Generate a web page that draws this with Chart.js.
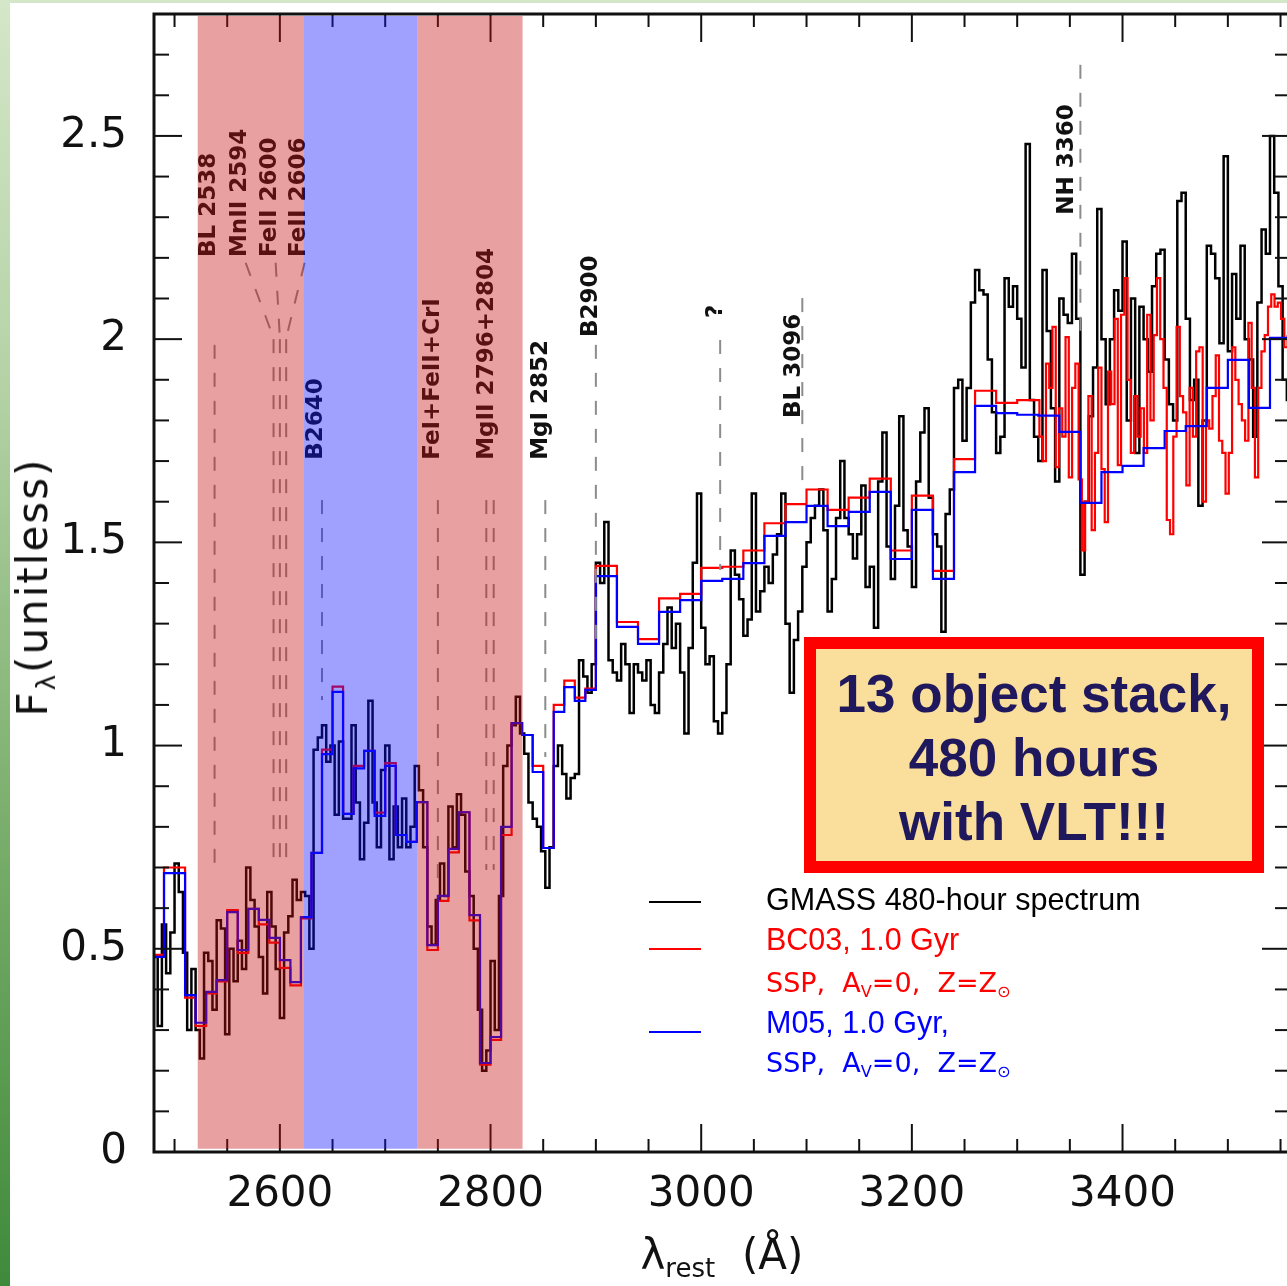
<!DOCTYPE html>
<html lang="en">
<head>
<meta charset="UTF-8">
<title>GMASS 480-hour stacked spectrum</title>
<style>
    html, body { margin: 0; padding: 0; }
    body {
        width: 1287px;
        height: 1286px;
        overflow: hidden;
        position: relative;
        background: linear-gradient(to bottom, #d4e7c8 0%, #b4d2a6 30%, #79ad6b 65%, #3f8a3a 100%);
    }
    #panel { position: absolute; left: 10px; top: 3px; width: 1277px; height: 1283px; background: #fff; }
    #spec { position: absolute; left: 0; top: 0; }

    .title {
        position: absolute;
        font-family: "DejaVu Sans", sans-serif;
        font-size: 42px;
        line-height: 42px;
        color: #111;
        white-space: pre;
    }
    .title sub { font-size: 0.62em; line-height: 0; vertical-align: -0.32em; }
    #ytitle { left: 33px; top: 587px; letter-spacing: 2px; transform: translate(-50%, -50%) rotate(-90deg); }
    #xtitle { left: 722px; top: 1234px; transform: translateX(-50%); }

    .key { position: absolute; left: 649px; width: 52px; height: 2px; }
    .leg { position: absolute; left: 766px; white-space: pre; }
    .leg.sans { font-family: "Liberation Sans", Arial, sans-serif; font-size: 30.5px; line-height: 30px; }
    .leg.hers { font-family: "DejaVu Sans", sans-serif; font-size: 27px; line-height: 27px; }
    .leg sub { font-size: 0.6em; line-height: 0; vertical-align: -0.3em; }

    #note {
        position: absolute;
        left: 804px; top: 637px;
        width: 460px; height: 236px;
        box-sizing: border-box;
        border: 12px solid #ff0000;
        background: #f9de9c;
        color: #20185c;
        font: bold 53px/64px "Liberation Sans", Arial, sans-serif;
        text-align: center;
        padding-top: 13px;
    }
</style>
</head>
<body>

<div id="panel"></div>
<canvas id="spec" width="1300" height="1286"></canvas>

<div id="ytitle" class="title">F<sub>λ</sub>(unitless)</div>
<div id="xtitle" class="title">λ<sub>rest</sub>  (Å)</div>

<div class="key" style="top:901px; background:#000;"></div>
<div class="key" style="top:948px; background:#ff0000;"></div>
<div class="key" style="top:1031px; background:#0000ff;"></div>
<div class="leg sans" style="top:884px; color:#000;">GMASS 480-hour spectrum</div>
<div class="leg sans" style="top:924px; color:#ff0000;">BC03, 1.0 Gyr</div>
<div class="leg hers" style="top:969px; color:#ff0000;">SSP,  A<sub>V</sub>=0,  Z=Z<sub>⊙</sub></div>
<div class="leg sans" style="top:1007px; color:#0000ff;">M05, 1.0 Gyr,</div>
<div class="leg hers" style="top:1049px; color:#0000ff;">SSP,  A<sub>V</sub>=0,  Z=Z<sub>⊙</sub></div>

<div id="note">13 object stack,<br>480 hours<br>with VLT!!!</div>

<script src="https://cdn.jsdelivr.net/npm/chart.js"></script>
<script>
    // stacked spectrum, sampled every 4 A from 2478 A
    const gmassStart = 2478;
    const gmassStep = 4;
    const gmassFlux = [
        0.45, 0.48, 0.31, 0.56, 0.44, 0.54, 0.71, 0.64, 0.49, 0.30,
        0.45, 0.30, 0.23, 0.49, 0.47, 0.35, 0.57, 0.55, 0.29, 0.50,
        0.42, 0.52, 0.45, 0.70, 0.62, 0.555, 0.48, 0.39, 0.64, 0.555,
        0.45, 0.33, 0.54, 0.58, 0.67, 0.62, 0.64, 0.63, 0.50, 0.99,
        1.02, 1.05, 0.96, 1.00, 0.83, 1.01, 0.82, 0.82, 1.05, 0.86,
        0.72, 0.81, 1.11, 0.86, 0.75, 0.94, 1.00, 0.72, 0.85, 0.75,
        0.87, 0.75, 0.80, 0.95, 0.89, 0.75, 0.555, 0.51, 0.62, 0.71,
        0.63, 0.85, 0.75, 0.88, 0.83, 0.69, 0.63, 0.50, 0.35, 0.20,
        0.25, 0.47, 0.30, 0.63, 0.95, 1.00, 1.05, 1.12, 1.03, 0.98,
        0.86, 0.82, 0.80, 0.74, 0.65, 0.75, 0.95, 1.00, 0.93, 0.87,
        0.92, 0.93, 1.21, 1.17, 1.13, 1.20, 1.45, 1.40, 1.55, 1.21,
        1.18, 1.16, 1.25, 1.20, 1.08, 1.20, 1.18, 1.16, 1.21, 1.10,
        1.08, 1.18, 1.25, 1.34, 1.24, 1.30, 1.18, 1.03, 1.24, 1.45,
        1.62, 1.29, 1.20, 1.22, 1.06, 1.03, 1.08, 1.20, 1.48, 1.42,
        1.36, 1.27, 1.31, 1.62, 1.33, 1.38, 1.44, 1.40, 1.47, 1.52,
        1.62, 1.30, 1.13, 1.26, 1.33, 1.44, 1.50, 1.56, 1.59, 1.63,
        1.53, 1.33, 1.41, 1.56, 1.70, 1.56, 1.52, 1.46, 1.52, 1.64,
        1.39, 1.44, 1.29, 1.65, 1.77, 1.49, 1.41, 1.59, 1.81, 1.53,
        1.49, 1.39, 1.65, 1.77, 1.83, 1.61, 1.52, 1.49, 1.28, 1.57,
        1.63, 1.88, 1.90, 1.75, 1.88, 2.09, 2.17, 2.12, 2.11, 1.95,
        1.82, 1.72, 1.76, 2.15, 2.08, 2.13, 2.05, 1.93, 2.48, 1.85,
        1.76, 1.70, 2.17, 2.02, 1.83, 1.65, 2.10, 2.06, 2.04, 2.21,
        2.05, 1.42, 1.60, 1.81, 1.93, 2.32, 2.00, 1.84, 2.00, 2.12,
        2.07, 2.24, 1.80, 2.10, 1.72, 2.08, 2.00, 1.92, 2.13, 2.21,
        2.22, 1.95, 1.84, 1.80, 2.34, 2.36, 2.05, 1.85, 1.90, 1.59,
        1.80, 2.23, 2.21, 2.15, 1.99, 2.45, 1.97, 2.16, 2.05, 2.23,
        2.00, 1.95, 1.76, 2.09, 2.27, 2.21, 2.50, 2.36, 2.13, 1.90,
        1.85
    ];

    // model bins (left edges): 10 A up to 2900, 20 A above
    const modelEdges = [
        2480, 2490, 2500, 2510, 2520, 2530, 2540, 2550, 2560, 2570,
        2580, 2590, 2600, 2610, 2620, 2630, 2640, 2650, 2660, 2670,
        2680, 2690, 2700, 2710, 2720, 2730, 2740, 2750, 2760, 2770,
        2780, 2790, 2800, 2810, 2820, 2830, 2840, 2850, 2860, 2870,
        2880, 2890, 2900, 2920, 2940, 2960, 2980, 3000, 3020, 3040,
        3060, 3080, 3100, 3120, 3140, 3160, 3180, 3200, 3220, 3240,
        3260, 3280, 3300, 3320, 3340, 3360, 3380, 3400, 3420, 3440,
        3460, 3480, 3500, 3520, 3540
    ];
    const modelEnd = 3560;

    // Maraston 2005, 1 Gyr SSP
    const m05Flux = [
        0.48, 0.686, 0.686, 0.386, 0.318, 0.394, 0.423, 0.59, 0.497, 0.598,
        0.571, 0.527, 0.472, 0.418, 0.578, 0.736, 0.979, 1.132, 0.832, 0.944,
        0.987, 0.827, 0.95, 0.78, 0.763, 0.861, 0.509, 0.63, 0.746, 0.836,
        0.583, 0.219, 0.283, 0.80, 1.055, 1.026, 0.935, 0.748, 1.083, 1.144,
        1.11, 1.137, 1.417, 1.292, 1.25, 1.329, 1.358, 1.405, 1.41, 1.449,
        1.516, 1.55, 1.59, 1.54, 1.575, 1.624, 1.459, 1.58, 1.41, 1.673,
        1.836, 1.818, 1.814, 1.812, 1.772, 1.597, 1.673, 1.688, 1.732, 1.774,
        1.786, 1.88, 1.949, 1.831, 2.003
    ];

    // Bruzual & Charlot 2003, 1 Gyr SSP: binned up to the 3300 A bin
    const bc03Flux = [
        0.485, 0.70, 0.70, 0.38, 0.31, 0.39, 0.42, 0.595, 0.49, 0.598,
        0.56, 0.515, 0.453, 0.41, 0.575, 0.736, 0.99, 1.145, 0.832, 0.95,
        0.987, 0.835, 0.957, 0.78, 0.763, 0.861, 0.497, 0.618, 0.737, 0.836,
        0.57, 0.215, 0.276, 0.78, 1.055, 1.026, 0.95, 0.748, 1.10, 1.16,
        1.118, 1.14, 1.442, 1.304, 1.262, 1.362, 1.373, 1.437, 1.44, 1.48,
        1.547, 1.594, 1.63, 1.58, 1.61, 1.657, 1.48, 1.615, 1.43, 1.705,
        1.873, 1.843, 1.85
    ];
    // ...and at full resolution redward of 3318 A
    const bc03FineStart = 3318;
    const bc03FineStep = 3.1;
    const bc03Fine = [
        1.85, 1.76, 1.70, 1.94, 1.88, 2.03, 1.685, 1.83, 1.76, 2.005,
        1.66, 1.88, 1.94, 1.655, 1.48, 1.60, 1.86, 1.53, 1.72, 1.93,
        1.68, 1.55, 1.92, 1.84, 2.05, 1.69, 2.06, 2.15, 1.90, 1.72,
        1.86, 1.76, 1.83, 1.72, 2.06, 1.80, 2.01, 2.15, 2.00, 1.88,
        1.555, 1.52, 1.76, 2.03, 1.86, 1.82, 1.64, 1.88, 1.76, 1.97,
        1.98, 1.60, 1.80, 1.78, 1.86, 1.96, 1.75, 1.72, 1.62, 1.72,
        1.98, 1.90, 1.84, 1.80, 1.75, 2.04, 1.88, 1.66, 1.88, 1.97,
        2.01, 2.08, 2.11, 2.08, 2.09, 2.05, 1.98, 2.01
    ];

    const xTickVals = [2600, 2800, 3000, 3200, 3400];
    const yTickVals = [0, 0.5, 1, 1.5, 2, 2.5];

    // shaded wavelength windows
    const bands = [
        { from: 2522, to: 2622.3, color: 'rgba(200,17,17,0.4)' },
        { from: 2622.3, to: 2730.6, color: 'rgba(17,17,255,0.4)' },
        { from: 2730.6, to: 2830.4, color: 'rgba(200,17,17,0.4)' }
    ];

    // line identifications: text baseline at `at`, text starts at flux `base`
    const features = [
        { text: 'BL 2538', at: 2538, base: 2.202, lines: [2538], dash: [1.986, 0.694] },
        { text: 'MnII 2594', at: 2567.5, base: 2.202, lines: [2594], dash: [2.0, 0.694], leader: true },
        { text: 'FeII 2600', at: 2596, base: 2.202, lines: [2600], dash: [2.0, 0.694], leader: true },
        { text: 'FeII 2606', at: 2623.5, base: 2.202, lines: [2606], dash: [2.0, 0.694], leader: true },
        { text: 'B2640', at: 2640, base: 1.703, lines: [2640], dash: [1.604, 1.112] },
        { text: 'FeI+FeII+CrI', at: 2751, base: 1.703, lines: [2750], dash: [1.604, 0.669] },
        { text: 'MgII 2796+2804', at: 2802, base: 1.703, lines: [2796, 2803], dash: [1.604, 0.694] },
        { text: 'MgI 2852', at: 2854, base: 1.703, lines: [2852], dash: [1.604, 0.972] },
        { text: 'B2900', at: 2901.5, base: 2.005, lines: [2900], dash: [1.986, 1.26] },
        { text: '?', at: 3019.5, base: 2.052, lines: [3018], dash: [1.998, 1.432] },
        { text: 'BL 3096', at: 3093.5, base: 1.806, lines: [3096], dash: [2.101, 1.641] },
        { text: 'NH 3360', at: 3353, base: 2.306, lines: [3360], dash: [2.675, 2.005] }
    ];

    const gmassPts = gmassFlux.map((f, i) => ({ x: gmassStart + i * gmassStep, y: f }));
    const m05Pts = modelEdges.map((w, i) => ({ x: w, y: m05Flux[i] }))
        .concat([{ x: modelEnd, y: m05Flux[m05Flux.length - 1] }]);
    const bc03Pts = bc03Flux.map((f, i) => ({ x: modelEdges[i], y: f }))
        .concat(bc03Fine.map((f, i) => ({ x: bc03FineStart + i * bc03FineStep, y: f })));

    function seg(ctx, x0, y0, x1, y1) {
        ctx.beginPath();
        ctx.moveTo(x0, y0);
        ctx.lineTo(x1, y1);
        ctx.stroke();
    }

    // labels, dashed markers, inward ticks, shaded windows and the frame
    const overlay = {
        id: 'overlay',
        afterDatasetsDraw(chart) {
            const { ctx, chartArea: a, scales: { x, y } } = chart;
            ctx.save();

            ctx.strokeStyle = '#8c8c8c';
            ctx.lineWidth = 2;
            ctx.setLineDash([14, 14]);
            features.forEach(f => {
                f.lines.forEach(w => {
                    const px = x.getPixelForValue(w);
                    seg(ctx, px, y.getPixelForValue(f.dash[0]), px, y.getPixelForValue(f.dash[1]));
                });
                if (f.leader) {
                    seg(ctx, x.getPixelForValue(f.at), y.getPixelForValue(2.188),
                        x.getPixelForValue(f.lines[0]), y.getPixelForValue(2.003));
                }
            });
            ctx.setLineDash([]);

            ctx.fillStyle = '#111';
            ctx.font = 'bold 23px "DejaVu Sans"';
            ctx.textAlign = 'left';
            ctx.textBaseline = 'alphabetic';
            features.forEach(f => {
                ctx.save();
                ctx.translate(x.getPixelForValue(f.at), y.getPixelForValue(f.base));
                ctx.rotate(-Math.PI / 2);
                ctx.fillText(f.text, 0, 0);
                ctx.restore();
            });

            ctx.strokeStyle = '#111';
            ctx.lineWidth = 2;
            for (let w = 2500; w <= 3550; w += 50) {
                const px = x.getPixelForValue(w);
                const len = w % 200 === 0 ? 28 : 13;
                seg(ctx, px, a.bottom, px, a.bottom - len);
                seg(ctx, px, a.top, px, a.top + len);
            }
            for (let k = 1; k <= 27; k++) {
                const py = y.getPixelForValue(k / 10);
                const len = k % 5 === 0 ? 28 : 15;
                seg(ctx, a.left, py, a.left + len, py);
                seg(ctx, a.right, py, a.right - len, py);
            }

            const bandBottom = y.getPixelForValue(0.008);
            bands.forEach(b => {
                const x0 = x.getPixelForValue(b.from);
                const x1 = x.getPixelForValue(b.to);
                ctx.fillStyle = b.color;
                ctx.fillRect(x0, a.top + 2, x1 - x0, bandBottom - a.top - 2);
            });

            ctx.strokeStyle = '#111';
            ctx.lineWidth = 3;
            ctx.strokeRect(a.left, a.top, a.right - a.left, a.bottom - a.top);
            ctx.restore();
        }
    };

    const tickFont = { family: 'DejaVu Sans', size: 42 };

    new Chart(document.getElementById('spec'), {
        type: 'line',
        data: {
            datasets: [
                { label: 'GMASS 480-hour spectrum', data: gmassPts, borderColor: '#000', borderWidth: 2.5, stepped: 'middle', order: 3 },
                { label: 'BC03, 1.0 Gyr', data: bc03Pts, borderColor: '#ff0000', borderWidth: 2.2, stepped: true, order: 2 },
                { label: 'M05, 1.0 Gyr', data: m05Pts, borderColor: '#0000ff', borderWidth: 2.2, stepped: true, order: 1 }
            ]
        },
        options: {
            responsive: false,
            animation: false,
            devicePixelRatio: 1,
            layout: { padding: { top: 14, right: 10, left: 0, bottom: 0 } },
            elements: { point: { radius: 0 }, line: { fill: false, tension: 0 } },
            plugins: { legend: { display: false }, tooltip: { enabled: false } },
            scales: {
                x: {
                    type: 'linear',
                    min: 2480.5,
                    max: 3559,
                    grid: { display: false, drawTicks: false },
                    border: { display: false },
                    ticks: {
                        font: tickFont, color: '#111', padding: 18,
                        maxRotation: 0, autoSkip: false,
                        callback: v => String(v)
                    },
                    afterBuildTicks: s => { s.ticks = xTickVals.map(v => ({ value: v })); },
                    afterFit: s => {
                        s.height = 134;
                        s.paddingLeft = 0;
                        s.paddingRight = 0;
                    }
                },
                y: {
                    min: 0,
                    max: 2.8,
                    grid: { display: false, drawTicks: false },
                    border: { display: false },
                    ticks: {
                        font: tickFont, color: '#111', padding: 27,
                        callback: v => String(v)
                    },
                    afterBuildTicks: s => { s.ticks = yTickVals.map(v => ({ value: v })); },
                    afterFit: s => {
                        s.width = 154;
                        s.paddingTop = 0;
                        s.paddingBottom = 0;
                    }
                }
            }
        },
        plugins: [overlay]
    });
</script>
</body>
</html>
